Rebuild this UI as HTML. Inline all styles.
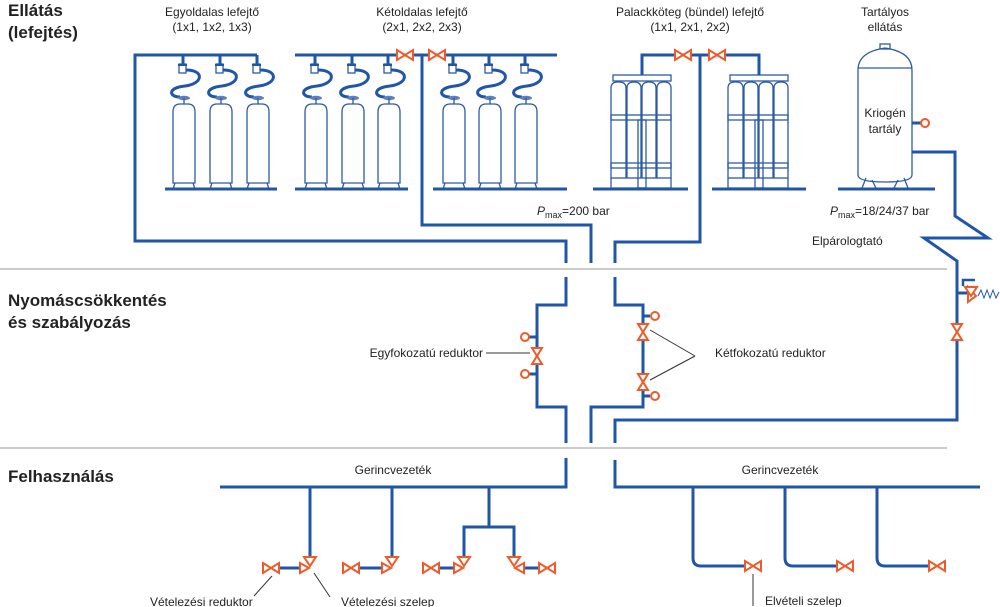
<!DOCTYPE html>
<html><head><meta charset="utf-8"><style>
body{margin:0;background:#fff}
svg{display:block}
text{font-family:"Liberation Sans",sans-serif;fill:#222}
.p{fill:none;stroke:#1f56a8;stroke-width:3}
.t{fill:none;stroke:#2d5aa8;stroke-width:1.3}
.o{fill:#fff;stroke:#f05a28;stroke-width:2}
.lab{font-size:12px}
.h{font-size:17px;font-weight:bold}
</style></head><body>
<svg width="1000" height="607" viewBox="0 0 1000 607">
<defs>
<g id="cyl">
<line x1="0" y1="55" x2="0" y2="64" class="p" stroke-width="2.5"/>
<rect x="-4" y="64" width="7" height="9" class="t" fill="#fff"/>
<rect x="-5" y="64" width="9" height="2" fill="#1f56a8"/>
<path d="M3,70 C22,70 20,84 2,86 C-16,88 -14,97 -3,97" class="p" stroke-width="2"/>
<ellipse cx="1" cy="98" rx="6" ry="2.2" fill="#5b7fbf"/>
<line x1="1" y1="98" x2="1" y2="104" class="t"/>
<path d="M-10,183 L-10,112 Q-10,104 -3,104 L5,104 Q12,104 12,112 L12,183 Z" class="t" fill="#fff"/>
<path d="M-8,183 L-10,189 M10,183 L12,189" class="t"/>
</g>
<g id="bund">
<rect x="613" y="75" width="58" height="6" class="t" fill="#fff"/>
<path d="M611,178 L611,88 Q611,82 618,82 L619,82 Q626,82 626,88 L626,178" class="t"/>
<path d="M627,178 L627,88 Q627,82 634,82 Q641,82 641,88 L641,178" class="t"/>
<path d="M642,178 L642,88 Q642,82 649,82 Q656,82 656,88 L656,178" class="t"/>
<path d="M657,178 L657,88 Q657,82 664,82 Q671,82 671,88 L671,178" class="t"/>
<rect x="611" y="115" width="60" height="5" class="t" fill="#fff"/>
<rect x="611" y="163" width="60" height="5" class="t" fill="#fff"/>
<rect x="638" y="120" width="8" height="68" class="t" fill="#fff"/>
<rect x="611" y="178" width="60" height="10" class="t" fill="none"/>
</g>
<g id="bv"><path d="M-8,-5 L8,5 L8,-5 L-8,5 Z" class="o"/></g>
<g id="vv"><path d="M-5,-8 L5,8 L-5,8 L5,-8 Z" class="o"/></g>
</defs>

<!-- gray separators -->
<line x1="0" y1="269" x2="947" y2="269" stroke="#bbb" stroke-width="1.5"/>
<line x1="0" y1="448" x2="947" y2="448" stroke="#bbb" stroke-width="1.5"/>

<!-- headings -->
<text x="8" y="16" class="h">Ellátás</text>
<text x="8" y="38" class="h">(lefejtés)</text>
<text x="8" y="306" class="h">Nyomáscsökkentés</text>
<text x="8" y="328" class="h">és szabályozás</text>
<text x="8" y="482" class="h">Felhasználás</text>

<g class="lab" text-anchor="middle">
<text x="212" y="16">Egyoldalas lefejtő</text>
<text x="212" y="31">(1x1, 1x2, 1x3)</text>
<text x="422" y="16">Kétoldalas lefejtő</text>
<text x="422" y="31">(2x1, 2x2, 2x3)</text>
<text x="690" y="16">Palackköteg (bündel) lefejtő</text>
<text x="690" y="31">(1x1, 2x1, 2x2)</text>
<text x="885" y="16">Tartályos</text>
<text x="885" y="31">ellátás</text>
<text x="885" y="117">Kriogén</text>
<text x="885" y="133">tartály</text>
<text x="393" y="474">Gerincvezeték</text>
<text x="780" y="474">Gerincvezeték</text>
</g>
<text x="537" y="215" class="lab"><tspan font-style="italic">P</tspan><tspan font-size="9" dy="3">max</tspan><tspan dy="-3">=200 bar</tspan></text>
<text x="830" y="215" class="lab"><tspan font-style="italic">P</tspan><tspan font-size="9" dy="3">max</tspan><tspan dy="-3">=18/24/37 bar</tspan></text>
<text x="812" y="245" class="lab">Elpárologtató</text>
<text x="483" y="357" class="lab" text-anchor="end">Egyfokozatú reduktor</text>
<text x="715" y="357" class="lab">Kétfokozatú reduktor</text>
<text x="150" y="606" class="lab">Vételezési reduktor</text>
<text x="341" y="606" class="lab">Vételezési szelep</text>
<text x="765" y="605" class="lab">Elvételi szelep</text>

<!-- leader lines -->
<g stroke="#333" stroke-width="1" fill="none">
<line x1="486" y1="353" x2="530" y2="353"/>
<line x1="695" y1="356" x2="650" y2="330"/>
<line x1="695" y1="356" x2="650" y2="380"/>
<line x1="272" y1="576" x2="254" y2="596"/>
<line x1="314" y1="573" x2="330" y2="597"/>
<line x1="753" y1="574" x2="753" y2="606"/>
</g>

<!-- cylinders -->
<use href="#cyl" x="183"/><use href="#cyl" x="220"/><use href="#cyl" x="257"/>
<use href="#cyl" x="315"/><use href="#cyl" x="352"/><use href="#cyl" x="388"/>
<use href="#cyl" x="453"/><use href="#cyl" x="489"/><use href="#cyl" x="525"/>
<use href="#bund"/><use href="#bund" x="117"/>
<g class="p" stroke-width="2.5">
<line x1="165" y1="189" x2="277" y2="189"/>
<line x1="295" y1="189" x2="408" y2="189"/>
<line x1="433" y1="189" x2="567" y2="189"/>
<line x1="593" y1="189" x2="688" y2="189"/>
<line x1="712" y1="189" x2="806" y2="189"/>
<line x1="838" y1="189" x2="935" y2="189"/>
</g>
<!-- tank -->
<path d="M858,175 L858,70 Q858,52 885,48 Q912,52 912,70 L912,175 Q912,182 885,182 Q858,182 858,175 Z" class="t" fill="#fff"/>
<line x1="858" y1="68" x2="912" y2="68" class="t"/>
<rect x="880" y="44" width="10" height="5" class="t" fill="#fff"/>
<path d="M866,178 L862,188 M872,180 L876,188 M898,180 L894,188 M904,178 L908,188" class="t"/>
<line x1="912" y1="123" x2="921" y2="123" class="p" stroke-width="2.5"/>
<circle cx="925" cy="123" r="4" class="o"/>

<!-- pipes -->
<g class="p">
<polyline points="257,55 135,55 135,241 566,241 566,263"/>
<line x1="295" y1="55" x2="557" y2="55"/>
<polyline points="422,55 422,225 591,225 591,263"/>
<polyline points="642,75 642,55 700,55 700,242 615,242 615,263"/>
<polyline points="700,55 759,55 759,75"/>
<polyline points="912,152 955,152 955,216 988,238 924,238 957,261 957,420 615,420 615,443"/>
<polyline points="566,277 566,305 537,305 537,407 566,407 566,443"/>
<polyline points="615,277 615,305 643,305 643,407 591,407 591,443"/>
<polyline points="566,458 566,487 220,487"/>
<polyline points="615,460 615,487 980,487"/>
<line x1="957" y1="293" x2="970" y2="293"/>
<polyline points="310,487 310,560"/>
<polyline points="392,487 392,560"/>
<polyline points="489,487 489,527 464,527 464,560"/>
<polyline points="489,527 514,527 514,560"/>
<line x1="278" y1="568" x2="302" y2="568"/>
<line x1="358" y1="568" x2="384" y2="568"/>
<line x1="438" y1="568" x2="456" y2="568"/>
<line x1="522" y1="568" x2="540" y2="568"/>
<path d="M693,487 L693,558 Q693,566 701,566 L745,566"/>
<path d="M785,487 L785,558 Q785,566 793,566 L837,566"/>
<path d="M877,487 L877,558 Q877,566 885,566 L929,566"/>
<polyline points="963,286 963,280 975,280" stroke-width="2.5"/>
</g>
<!-- safety spring -->
<polyline points="978,296 981,290 984,298 987,290 990,298 993,290 996,298 999,292" fill="none" stroke="#1f56a8" stroke-width="1"/>
<path d="M968,287 L976,296 L968,302 Z" class="o"/>
<path d="M965,287 L977,287 L971,296 Z" class="o"/>

<!-- valves -->
<use href="#bv" x="405" y="55"/><use href="#bv" x="437" y="55"/>
<use href="#bv" x="683" y="55"/><use href="#bv" x="717" y="55"/>
<use href="#vv" x="957" y="332"/>
<use href="#vv" x="537" y="356"/>
<use href="#vv" x="643" y="332"/><use href="#vv" x="643" y="382"/>
<g class="p" stroke-width="2.5">
<line x1="529" y1="337" x2="537" y2="337"/><line x1="529" y1="374" x2="537" y2="374"/>
<line x1="643" y1="316" x2="650" y2="316"/><line x1="643" y1="396" x2="650" y2="396"/>
</g>
<circle cx="525" cy="337" r="4" class="o"/><circle cx="525" cy="374" r="4" class="o"/>
<circle cx="655" cy="316" r="4" class="o"/><circle cx="655" cy="396" r="4" class="o"/>

<!-- bottom valves -->
<use href="#bv" x="271" y="568"/><use href="#bv" x="351" y="568"/><use href="#bv" x="431" y="568"/><use href="#bv" x="547" y="568"/>
<g>
<path d="M304,557 L316,557 L310,566 Z" class="o"/><path d="M300,563 L309,568 L300,573 Z" class="o"/>
<path d="M386,557 L398,557 L392,566 Z" class="o"/><path d="M382,563 L391,568 L382,573 Z" class="o"/>
<path d="M458,557 L470,557 L464,566 Z" class="o"/><path d="M454,563 L463,568 L454,573 Z" class="o"/>
<path d="M508,557 L520,557 L514,566 Z" class="o"/><path d="M524,563 L515,568 L524,573 Z" class="o"/>
</g>
<use href="#bv" x="753" y="566"/><use href="#bv" x="845" y="566"/><use href="#bv" x="937" y="566"/>
</svg>
</body></html>
